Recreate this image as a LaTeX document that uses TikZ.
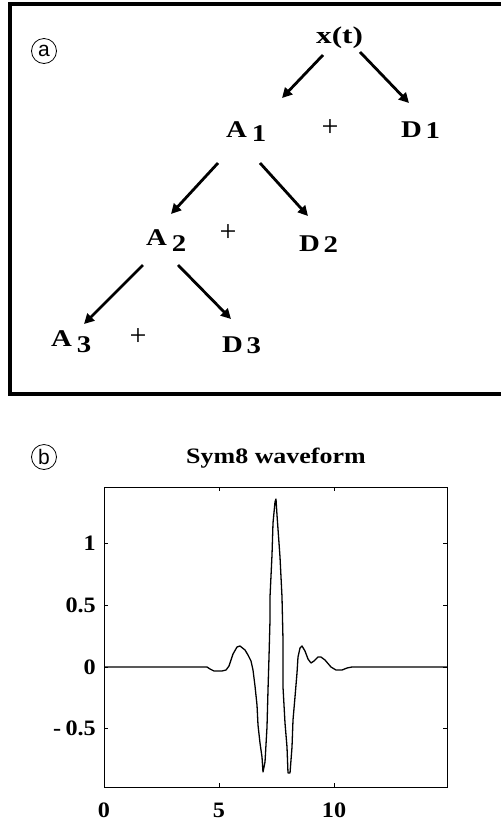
\documentclass[tikz,border=0pt]{standalone}
\usepackage{fontspec}
\setmainfont{Liberation Serif}
\newfontfamily\circfont{Liberation Sans}
\usetikzlibrary{arrows.meta}
\newcommand{\wide}[2][1.2]{\scalebox{#1}[1]{#2}}
\tikzset{
  treelbl/.style={inner sep=0pt, anchor=base west, font=\fontsize{24}{26}\selectfont\bfseries},
  plussign/.style={inner sep=0pt, font=\fontsize{30}{32}\selectfont},
  branch/.style={line width=2.8pt, -{Triangle[length=10pt,width=10pt]}},
  framebox/.style={line width=4pt},
  circlbl/.style={draw, circle, line width=0.8pt, minimum size=25pt, inner sep=0pt, font=\fontsize{21}{22}\selectfont\circfont},
  ticklbl/.style={inner sep=0pt, font=\fontsize{22}{24}\selectfont\bfseries},
  plotframe/.style={line width=1pt},
  wave/.style={line width=1.3pt, line join=round}
}
\begin{document}
\begin{tikzpicture}[x=1pt,y=-1pt]
\useasboundingbox (0,0) rectangle (501,823);
% ---- panel (a) ----
\draw[framebox] (501,4) -- (9.5,4) -- (9.5,394) -- (501,394);
\node[circlbl] (ca) at (44,51) {a};
\node[treelbl] (xt) at (316,43) {\wide[1.3]{x(t)}};
\node[treelbl] (A1) at (226,137) {\wide{A\hspace{4pt}\raisebox{-4pt}{1}}};
\node[treelbl] (D1) at (401,137) {\wide{D\hspace{3pt}\raisebox{-1pt}{1}}};
\node[treelbl] (A2) at (146,245) {\wide{A\hspace{4pt}\raisebox{-6pt}{2}}};
\node[treelbl] (D2) at (299,251) {\wide{D\hspace{3pt}\raisebox{-1pt}{2}}};
\node[treelbl] (A3) at (51,346) {\wide{A\hspace{4pt}\raisebox{-6pt}{3}}};
\node[treelbl] (D3) at (222,352) {\wide{D\hspace{3pt}\raisebox{-1pt}{3}}};
\node[plussign] (p1) at (330,128) {+};
\node[plussign] (p2) at (228,233) {+};
\node[plussign] (p3) at (138,337) {+};
\coordinate (xtL) at (323,55);  \coordinate (A1t) at (282,98);
\coordinate (xtR) at (360,52);  \coordinate (D1t) at (409,103);
\coordinate (A1L) at (218,163); \coordinate (A2t) at (171,214);
\coordinate (A1R) at (260,163); \coordinate (D2t) at (308,216);
\coordinate (A2L) at (143,265); \coordinate (A3t) at (84,324);
\coordinate (A2R) at (178,265); \coordinate (D3t) at (231,319);
\draw[branch] (xtL) -- (A1t);
\draw[branch] (xtR) -- (D1t);
\draw[branch] (A1L) -- (A2t);
\draw[branch] (A1R) -- (D2t);
\draw[branch] (A2L) -- (A3t);
\draw[branch] (A2R) -- (D3t);
% ---- panel (b) ----
\node[circlbl] (cb) at (44,457) {b};
\node[inner sep=0pt, font=\fontsize{22}{24}\selectfont\bfseries] (title) at (276,458) {\wide[1.18]{Sym8 waveform}};
\draw[plotframe] (104,487) rectangle (447,787);
% ticks
\foreach \yy in {543,605,667,728} {
  \draw[plotframe] (104,\yy) -- (108,\yy);
  \draw[plotframe] (447,\yy) -- (443,\yy);
}
\foreach \xx in {219,334} {
  \draw[plotframe] (\xx,787) -- (\xx,783);
  \draw[plotframe] (\xx,487) -- (\xx,491);
}
\node[ticklbl, anchor=east] (y1) at (96,543) {\wide[1.1]{1}};
\node[ticklbl, anchor=east] (y2) at (96,605) {\wide[1.1]{0.5}};
\node[ticklbl, anchor=east] (y3) at (96,667) {\wide[1.1]{0}};
\node[ticklbl, anchor=east] (y4) at (96,728) {\wide[1.1]{-\hspace{4pt}0.5}};
\node[ticklbl] (x0) at (104,810) {\wide[1.1]{0}};
\node[ticklbl] (x5) at (219,810) {\wide[1.1]{5}};
\node[ticklbl] (x10) at (334,810) {\wide[1.1]{10}};
\draw[wave] plot coordinates {
(104,667) (207,667) (210,669) (214,671) (222,671) (226,670) (229,666) (233,654) (237,647) (240,646) (245,650) (248,655) (251,661) (253,670) (255,686) (257,705) (258,725) (260,743) (262,757) (263,772) (265,762) (267,727) (268,690) (269,657) (270,620) (270,597) (272,555) (273,523) (275,502) (276,499) (277,515) (280,557) (282,597) (283,640) (283,687) (285,723) (287,747) (288,773) (290,773) (292,747) (293,720) (295,697) (297,673) (298,657) (300,648) (302,646) (305,651) (308,659) (311,663) (314,661) (318,657) (321,657) (325,660) (331,667) (336,670) (342,670) (347,668) (352,667) (447,667)
};
\end{tikzpicture}
\end{document}
